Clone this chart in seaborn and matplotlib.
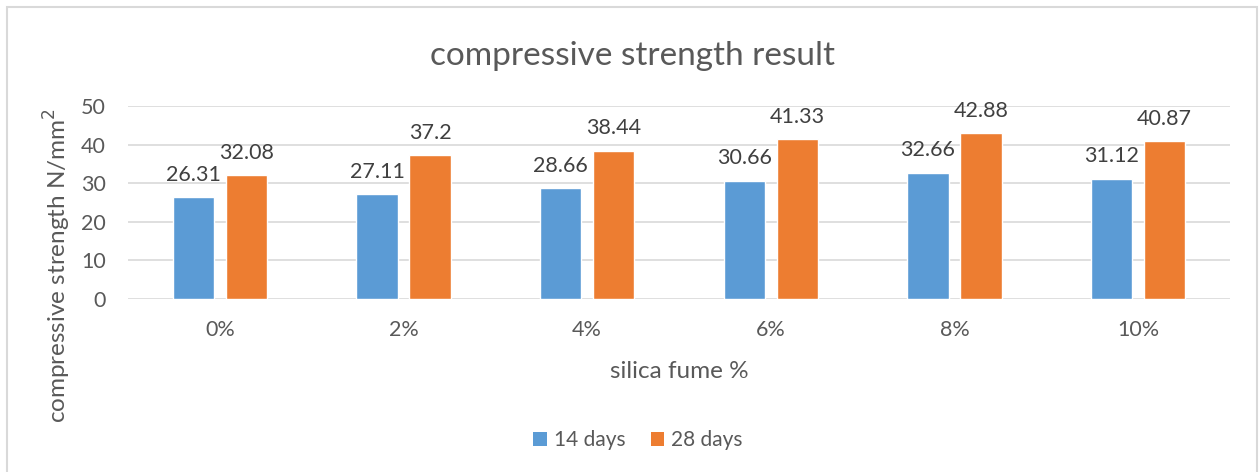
import matplotlib
matplotlib.use("Agg")
import matplotlib.pyplot as plt
from matplotlib.patches import Rectangle, Patch
import seaborn as sns
import pandas as pd

# Compressive strength by silica fume replacement
categories = ["0%", "2%", "4%", "6%", "8%", "10%"]
days_14 = [26.31, 27.11, 28.66, 30.66, 32.66, 31.12]
days_28 = [32.08, 37.2, 38.44, 41.33, 42.88, 40.87]
series_names = ["14 days", "28 days"]
label_14 = ["26.31", "27.11", "28.66", "30.66", "32.66", "31.12"]
label_28 = ["32.08", "37.2", "38.44", "41.33", "42.88", "40.87"]

df = pd.DataFrame({
    "silica fume %": categories * 2,
    "strength": days_14 + days_28,
    "age": [series_names[0]] * len(categories) + [series_names[1]] * len(categories),
})

sns.set_theme(style="white")
plt.rcParams["font.family"] = ["Lato", "DejaVu Sans"]

TEXT = "#595959"
colors = ["#5B9BD5", "#ED7D31"]

fig = plt.figure(figsize=(12.59, 4.72), dpi=100)
ax = fig.add_axes([128 / 1259, 1 - 299 / 472, (1230 - 128) / 1259, (299 - 106) / 472])

sns.barplot(data=df, x="silica fume %", y="strength", hue="age",
            order=categories, hue_order=series_names, palette=colors,
            width=0.577, gap=0.226, saturation=1, ax=ax, errorbar=None)

ax.set_ylim(0, 50)
ax.set_yticks([0, 10, 20, 30, 40, 50])
ax.yaxis.grid(True, color="#D9D9D9", linewidth=1.2)
ax.set_axisbelow(True)
for s in ax.spines.values():
    s.set_visible(False)
ax.tick_params(axis="y", length=0, pad=16, labelsize=15.5, labelcolor=TEXT)
ax.tick_params(axis="x", length=0, pad=15, labelsize=15.5, labelcolor=TEXT)
ax.set_ylabel("")
ax.set_xlabel("")

# value labels above the bars
for cont, labels in zip(ax.containers, [label_14, label_28]):
    ax.bar_label(cont, labels=labels, padding=9, fontsize=15.5, color="#404040")

if ax.get_legend() is not None:
    ax.get_legend().remove()

handles = [Patch(facecolor=c, edgecolor="none") for c in colors]
fig.legend(handles, series_names, loc="center", bbox_to_anchor=(638 / 1259, 1 - 440 / 472),
           ncol=2, frameon=False, fontsize=15, labelcolor=TEXT,
           handlelength=0.65, handleheight=0.65, handletextpad=0.35, columnspacing=1.2)

fig.text(632 / 1259, 1 - 56 / 472, "compressive strength result",
         ha="center", va="center", fontsize=24, color=TEXT)
fig.text(679 / 1259, 1 - 371 / 472, "silica fume %",
         ha="center", va="center", fontsize=17.5, color=TEXT)
fig.text(57 / 1259, 1 - 266 / 472, "compressive strength N/mm$^2$",
         ha="center", va="center", rotation=90, fontsize=17.5, color=TEXT)

# chart frame
fig.patches.append(Rectangle((7 / 1259, -0.05), 1250 / 1259, 1.05 - 7 / 472,
                             transform=fig.transFigure,
                             fill=False, edgecolor="#D9D9D9", linewidth=1.5))

fig.savefig("out.png", dpi=100, facecolor="white")
